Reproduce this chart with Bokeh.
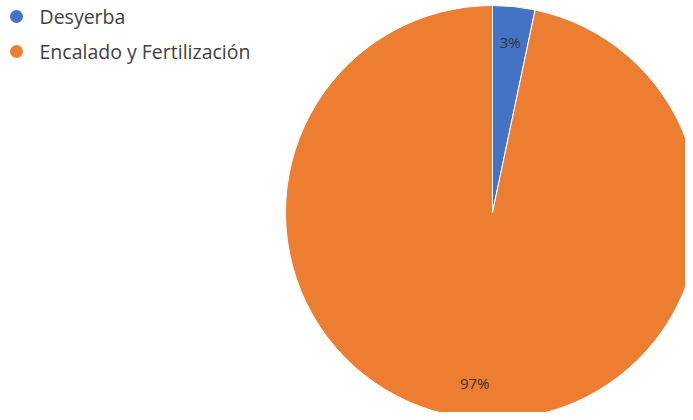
import math
from bokeh.plotting import figure
from bokeh.models import Range1d, ColumnDataSource
from bokeh.core.properties import value
from bokeh.embed import file_html
from bokeh.resources import INLINE

categories = ["Desyerba", "Encalado y Fertilización"]
shares = [3.3, 96.7]
labels = ["3%", "97%"]
colors = ["#4472C4", "#ED7D31"]

W, H = 685, 412
p = figure(width=W, height=H, output_backend="svg", toolbar_location=None,
           x_range=Range1d(0, W), y_range=Range1d(0, H),
           min_border=0, outline_line_color=None)
p.axis.visible = False
p.grid.visible = False
p.background_fill_color = "white"
p.border_fill_color = "white"

cx, cy, R = 492, H - 212, 207
total = sum(shares)
starts, ends, lx, ly = [], [], [], []
a = math.pi / 2
for s in shares:
    sweep = 2 * math.pi * s / total
    starts.append(a)
    ends.append(a - sweep)
    mid = a - sweep / 2
    lx.append(cx + 0.83 * R * math.cos(mid))
    ly.append(cy + 0.83 * R * math.sin(mid))
    a -= sweep

src = ColumnDataSource(dict(start=starts, end=ends, color=colors, lx=lx, ly=ly, label=labels))
p.wedge(x=cx, y=cy, radius=R, start_angle="start", end_angle="end", direction="clock",
        fill_color="color", line_color="white", line_width=1, source=src)
p.text(x="lx", y="ly", text="label", source=src, text_align="center", text_baseline="middle",
       text_font=value("Open Sans"), text_font_size="15px", text_color="#333333")

leg = ColumnDataSource(dict(x=[16, 16], y=[H - 16, H - 51], tx=[39, 39],
                            name=categories, color=colors))
p.scatter(x="x", y="y", size=13, marker="circle", fill_color="color", line_color=None, source=leg)
p.text(x="tx", y="y", text="name", source=leg, text_baseline="middle",
       text_font=value("Open Sans"), text_font_size="19.5px", text_color="#404040")

open("out.html", "w").write(file_html(p, INLINE))
